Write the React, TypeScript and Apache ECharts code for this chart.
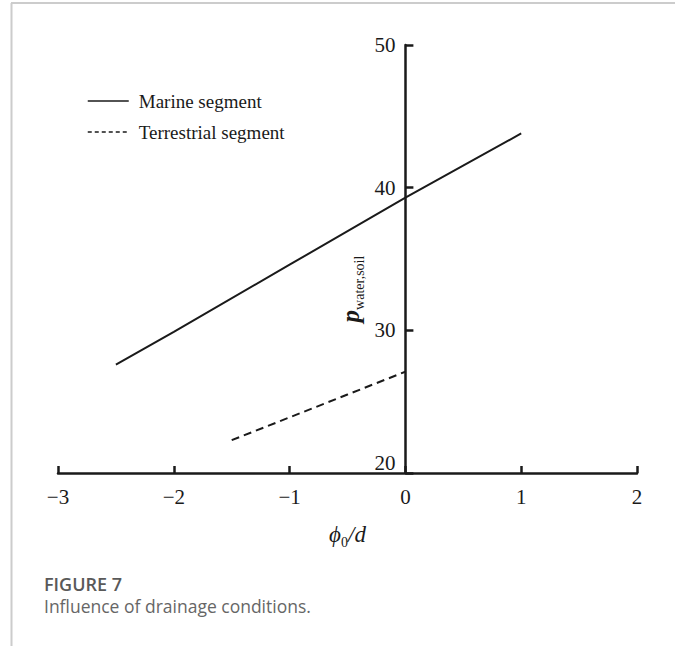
import React, { useEffect, useRef } from "react";
import * as echarts from "echarts";

// Pressure ratio p_water,soil against phi_0/d for the two coastline segments
const marineX = [-2.5, -2, -1, 0, 1];
const marineY = [27.6, 29.9, 34.6, 39.3, 43.8];
const terrestrialX = [-1.5, -1, -0.5, 0];
const terrestrialY = [22.3, 23.9, 25.5, 27.1];

const seriesNames = ["Marine segment", "Terrestrial segment"];
const xTicks = { min: -3, max: 2, step: 1 };
const yTicks = { min: 20, max: 50, step: 10 };

const SERIF = '"Liberation Serif", "Times New Roman", serif';
const SERIF_PLAIN = "Liberation Serif";
const SANS = '"Open Sans", "Noto Sans", sans-serif';
const INK = "#1a1a1a";

const GRID = { left: 58, right: 38, top: 45, bottom: 173 };
const WIDTH = 675;
const HEIGHT = 646;

export default function App() {
  const ref = useRef<HTMLDivElement>(null);

  useEffect(() => {
    document.body.style.margin = "0";
    if (!ref.current) return;
    const chart = echarts.init(ref.current, undefined, { renderer: "svg" });

    const pairs = (xs: number[], ys: number[]) => xs.map((x, i) => [x, ys[i]]);

    // the vertical axis stands at x = 0, inside the plot
    const gridWidth = WIDTH - GRID.left - GRID.right;
    const yAxisOffset = -((0 - xTicks.min) / (xTicks.max - xTicks.min)) * gridWidth;

    const tickFont = { fontFamily: SERIF_PLAIN, fontSize: 21, fontWeight: "normal", fontStyle: "normal", color: INK };

    chart.setOption({
      animation: false,
      backgroundColor: "#ffffff",
      grid: GRID,
      legend: {
        orient: "vertical",
        left: 87,
        top: 91,
        padding: 0,
        itemWidth: 41,
        itemHeight: 14,
        itemGap: 11,
        itemStyle: { opacity: 0 },
        textStyle: {
          fontFamily: SERIF,
          fontSize: 19,
          color: INK,
          lineHeight: 20,
          padding: [0, 0, 0, 5],
        },
        data: [
          { name: seriesNames[0], lineStyle: { type: "solid", width: 1.5 } },
          { name: seriesNames[1], lineStyle: { type: [4, 3], width: 1.5 } },
        ],
      },
      xAxis: {
        type: "value",
        min: xTicks.min,
        max: xTicks.max,
        interval: xTicks.step,
        axisLine: { onZero: false, lineStyle: { color: INK, width: 2.5 } },
        axisTick: { show: true, inside: true, length: 7, lineStyle: { color: INK, width: 2.5 } },
        axisLabel: {
          margin: 13,
          ...tickFont,
          formatter: (v: number) => String(v).replace("-", "\u2212"),
        },
        splitLine: { show: false },
        name: "{i|\u03D5}{s|0}{i|/d}",
        nameLocation: "middle",
        nameGap: 50,
        nameTextStyle: {
          rich: {
            i: { fontFamily: SERIF, fontSize: 23, fontStyle: "italic", color: INK, verticalAlign: "bottom", padding: [0, 0, 3, 0] },
            s: { fontFamily: SERIF, fontSize: 14, color: INK, verticalAlign: "bottom" },
          },
        },
      },
      yAxis: {
        type: "value",
        min: yTicks.min,
        max: yTicks.max,
        interval: yTicks.step,
        position: "left",
        offset: yAxisOffset,
        axisLine: { show: true, onZero: false, lineStyle: { color: INK, width: 2.5 } },
        axisTick: { show: true, inside: true, length: 8, lineStyle: { color: INK, width: 2.5 } },
        axisLabel: {
          margin: 10,
          ...tickFont,
          formatter: (v: number) => (v === yTicks.min ? `{lift|${v}}` : `{n|${v}}`),
          rich: {
            n: { ...tickFont },
            lift: { ...tickFont, padding: [0, 0, 20, 0] },
          },
        },
        splitLine: { show: false },
      },
      series: [
        {
          name: seriesNames[0],
          type: "line",
          data: pairs(marineX, marineY),
          symbol: "none",
          lineStyle: { color: INK, width: 2 },
          itemStyle: { color: INK },
        },
        {
          name: seriesNames[1],
          type: "line",
          data: pairs(terrestrialX, terrestrialY),
          symbol: "none",
          lineStyle: { color: INK, width: 2, type: [8, 5] },
          itemStyle: { color: INK },
        },
      ],
      graphic: [
        { type: "line", shape: { x1: 11, y1: 3, x2: WIDTH, y2: 3 }, style: { stroke: "#cccccc", lineWidth: 2 } },
        { type: "line", shape: { x1: 11.5, y1: 3, x2: 11.5, y2: HEIGHT }, style: { stroke: "#cccccc", lineWidth: 2 } },
        {
          type: "text",
          x: 352,
          y: 289,
          rotation: Math.PI / 2,
          style: {
            text: "{p|p}{s|water,soil}",
            align: "center",
            verticalAlign: "middle",
            rich: {
              p: { fontFamily: SERIF, fontSize: 25, fontStyle: "italic", fontWeight: "bold", fill: INK, verticalAlign: "bottom", padding: [0, 0, 4, 0] },
              s: { fontFamily: SERIF, fontSize: 14, fill: INK, verticalAlign: "bottom" },
            },
          },
        },
        {
          type: "text",
          x: 44,
          y: 584,
          style: { text: "FIGURE 7", fontFamily: SANS, fontSize: 18, fontWeight: 600, fill: "#595959", verticalAlign: "middle" },
        },
        {
          type: "text",
          x: 44,
          y: 606,
          style: { text: "Influence of drainage conditions.", fontFamily: SANS, fontSize: 17.5, fill: "#666666", verticalAlign: "middle" },
        },
      ],
    });

    return () => chart.dispose();
  }, []);

  return <div ref={ref} style={{ width: WIDTH, height: HEIGHT }} />;
}
